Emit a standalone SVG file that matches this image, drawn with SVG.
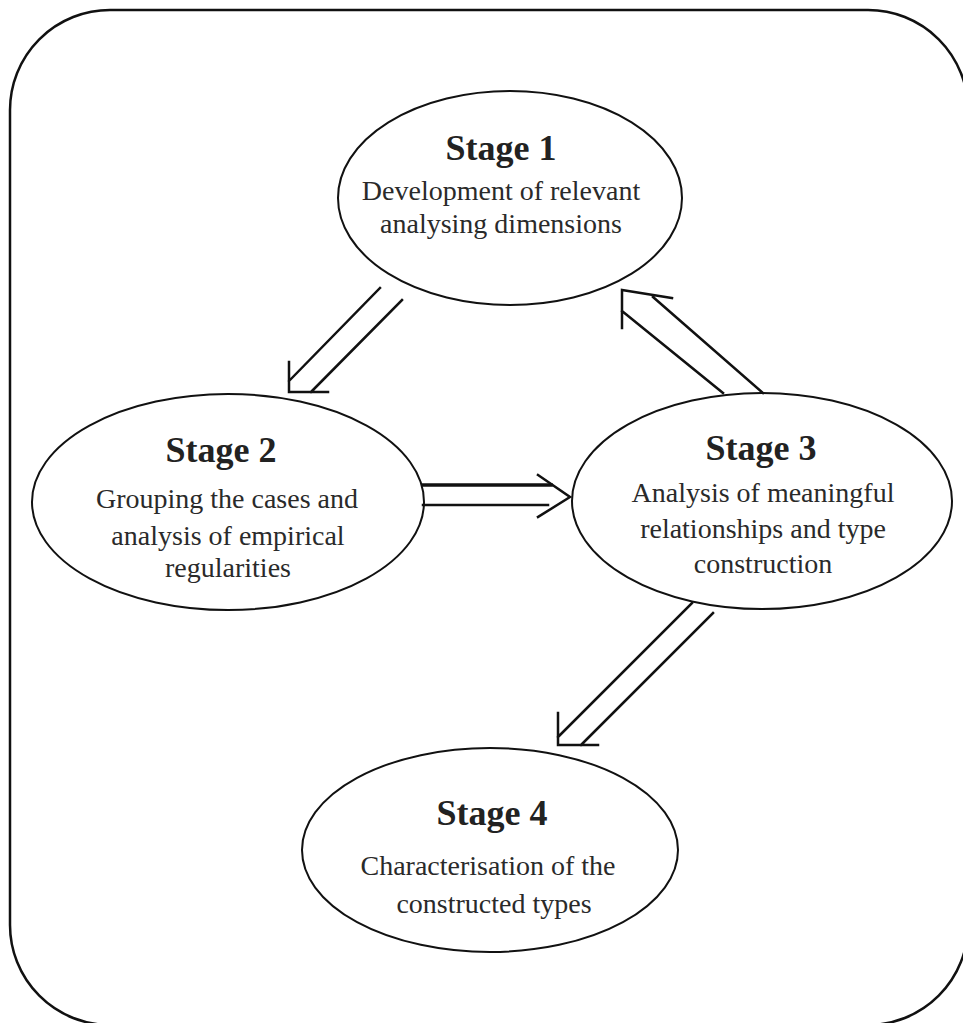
<svg xmlns="http://www.w3.org/2000/svg" width="963" height="1023" viewBox="0 0 963 1023">
<style>
.frame{fill:none;stroke:#111;stroke-width:2.5}
.node ellipse{fill:#fff;stroke:#111;stroke-width:2}
.title{font-family:"Liberation Serif","Times New Roman",serif;font-weight:bold;font-size:36px;fill:#222;text-anchor:middle}
.body{font-family:"Liberation Serif","Times New Roman",serif;font-size:28px;fill:#2a2a2a;text-anchor:middle}
.conn path{fill:none;stroke:#111;stroke-width:2.5;stroke-linecap:square}
</style>
<rect width="963" height="1023" fill="#fff"/>
<path class="frame" d="M110 10 H868 A100 100 0 0 1 968 110 V925 A100 100 0 0 1 868 1025 H110 A100 100 0 0 1 10 925 V110 A100 100 0 0 1 110 10 Z"/>
<g id="stage1" class="node">
<ellipse cx="510" cy="198" rx="172" ry="107"/>
<text class="title" x="501" y="160">Stage 1</text>
<text class="body" x="501" y="200">Development of relevant</text>
<text class="body" x="501" y="233">analysing dimensions</text>
</g>
<g id="stage2" class="node">
<ellipse cx="228" cy="502" rx="196" ry="108"/>
<text class="title" x="221" y="462">Stage 2</text>
<text class="body" x="227" y="508">Grouping the cases and</text>
<text class="body" x="228" y="545">analysis of empirical</text>
<text class="body" x="228" y="577">regularities</text>
</g>
<g id="stage3" class="node">
<ellipse cx="762" cy="501" rx="190" ry="108"/>
<text class="title" x="761" y="460">Stage 3</text>
<text class="body" x="763" y="502">Analysis of meaningful</text>
<text class="body" x="763" y="538">relationships and type</text>
<text class="body" x="763" y="573">construction</text>
</g>
<g id="stage4" class="node">
<ellipse cx="490" cy="850" rx="188" ry="102"/>
<text class="title" x="492" y="825">Stage 4</text>
<text class="body" x="488" y="875">Characterisation of the</text>
<text class="body" x="494" y="913">constructed types</text>
</g>
<g id="connectors" class="conn">
<path d="M380 288 L289 381 M402 300 L311 392 M289 362 V392 H328"/>
<path d="M723 393 L622 311 M763 393 L653 297 M622 328 V290 L672 298"/>
<path d="M423 485 H551" style="stroke-width:3.5"/>
<path d="M423 505 H548"/>
<path d="M538 475 L570 497 L538 517"/>
<path d="M692 603 L558 737 M713 613 L581 745 M558 713 V745 H598"/>
</g>
</svg>
